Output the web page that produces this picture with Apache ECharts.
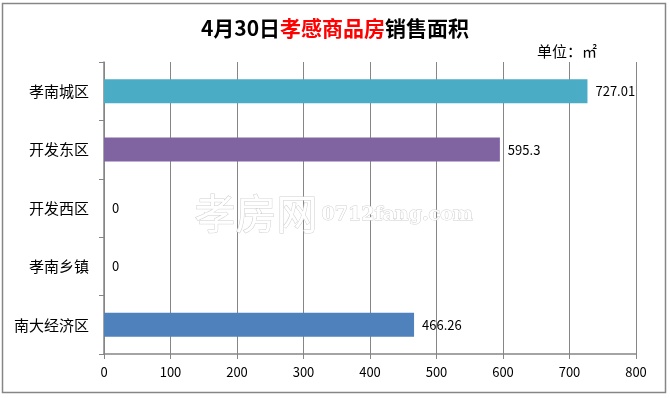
<!DOCTYPE html>
<html lang="zh">
<head>
  <meta charset="UTF-8">
  <title>4月30日孝感商品房销售面积</title>
  <style>
    html, body { margin: 0; padding: 0; width: 100%; height: 100%; background: #fff; }
  </style>
  <script src="https://cdn.jsdelivr.net/npm/echarts@6/dist/echarts.min.js"></script>
</head>
<body>
<div id="main" style="width: 670px; height: 398px;"></div>
<script>
  // 区域（自上而下）
  var districts = ['孝南城区', '开发东区', '开发西区', '孝南乡镇', '南大经济区'];
  var areas = [727.01, 595.3, 0, 0, 466.26];
  var barColors = ['#4BACC6', '#8064A2', '#4F81BD', '#4F81BD', '#4F81BD'];
  var axisTicks = [0, 100, 200, 300, 400, 500, 600, 700, 800];

  var font = '"Noto Sans CJK SC", "DejaVu Sans", sans-serif';
  var grey = '#868686';

  var myChart = echarts.init(document.getElementById('main'));

  var option = {
    animation: false,
    backgroundColor: '#fff',
    title: {
      text: '{b|4月30日}{r|孝感商品房}{b|销售面积}',
      left: 'center',
      top: 13,
      textStyle: {
        rich: {
          b: { fontSize: 21, fontWeight: 'bold', color: '#000', fontFamily: font },
          r: { fontSize: 21, fontWeight: 'bold', color: '#FF0000', fontFamily: font }
        }
      }
    },
    graphic: [
      {
        type: 'rect',
        shape: { x: 2.5, y: 3.5, width: 663, height: 389 },
        style: { fill: 'none', stroke: grey, lineWidth: 1.5 },
        z: 0
      },
      {
        type: 'text',
        left: 537, top: 44,
        style: { text: '单位：㎡', fontSize: 15, fill: '#000', fontFamily: font }
      },
      {
        type: 'text',
        left: 194, top: 192,
        style: { text: '孝房网', fontSize: 41, fill: '#fff', stroke: '#cfcfcf', lineWidth: 1, fontFamily: font },
        z: 1
      },
      {
        type: 'text',
        left: 321, top: 205,
        style: { text: '0712fang.com', fontSize: 19, fill: '#fff', stroke: '#cfcfcf', lineWidth: 1, fontFamily: 'DejaVu Serif', fontWeight: 'bold' },
        z: 1
      }
    ],
    grid: { left: 104, right: 34, top: 62, bottom: 44 },
    xAxis: {
      type: 'value',
      min: axisTicks[0],
      max: axisTicks[axisTicks.length - 1],
      interval: 100,
      axisLine: { show: true, lineStyle: { color: grey, width: 1.5 } },
      axisTick: { show: true, length: 5, lineStyle: { color: grey } },
      splitLine: { show: true, lineStyle: { color: grey, width: 1 } },
      axisLabel: { color: '#000', fontSize: 13, fontFamily: font, margin: 12 }
    },
    yAxis: {
      type: 'category',
      inverse: true,
      data: districts,
      axisLine: { show: true, lineStyle: { color: grey, width: 1.5 } },
      axisTick: { show: true, length: 5, lineStyle: { color: grey } },
      axisLabel: { color: '#000', fontSize: 15, fontFamily: font, margin: 15 }
    },
    series: [
      {
        type: 'bar',
        barWidth: 24,
        data: areas.map(function (v, i) {
          return { value: v, itemStyle: { color: barColors[i] } };
        }),
        label: {
          show: true,
          position: 'right',
          distance: 8,
          color: '#000',
          fontSize: 13,
          fontFamily: font
        },
        z: 3
      }
    ]
  };

  myChart.setOption(option);
</script>
</body>
</html>
